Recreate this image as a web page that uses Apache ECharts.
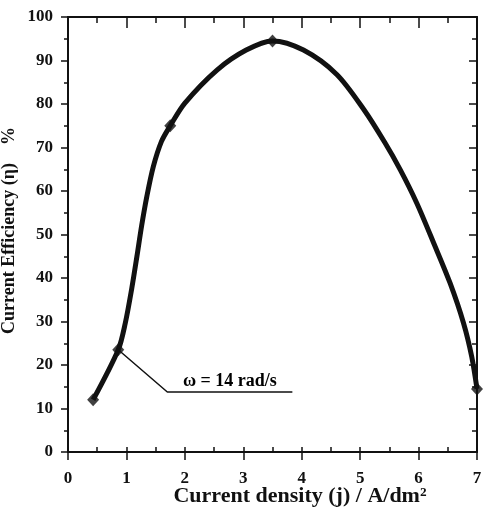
<!DOCTYPE html>
<html>
<head>
<meta charset="utf-8">
<script src="https://cdn.jsdelivr.net/npm/echarts@6/dist/echarts.min.js"></script>
<style>html,body{margin:0;padding:0;background:#fff;}#c{width:500px;height:512px;}</style>
</head>
<body>
<div id="c"></div>
<script>
// measured points (markers)
const pointX = [0.43, 0.86, 1.75, 3.5, 7.0];
const pointY = [12, 23.5, 75, 94.5, 14.5];
// fitted curve as drawn
const curveX = [0.43, 0.86, 0.98, 1.09, 1.18, 1.26, 1.35, 1.46, 1.6, 1.75, 2.0, 2.55, 3.05, 3.5, 4.03, 4.6, 5.06, 5.42, 5.69, 5.97, 6.26, 6.54, 6.77, 6.91, 7.0];
const curveY = [12, 23.5, 29.6, 37.5, 45, 52, 58.8, 65.6, 71.4, 75, 80.2, 87.8, 92.4, 94.5, 92.4, 86.8, 78.8, 71.2, 64.8, 57.2, 48, 38.8, 29.6, 21.9, 14.5];
// annotation leader line
const leaderX = [0.86, 1.70, 3.84];
const leaderY = [23.5, 13.8, 13.8];
const annText = 'ω = 14 rad/s';
const annPos = [2.77, 13.8];

const xName = 'Current density (j) / A/dm²';
const yName = 'Current Efficiency (η)    %';

const serif = 'Liberation Serif';
const ink = '#111';
const zip = (a, b) => a.map((v, i) => [v, b[i]]);

const chart = echarts.init(document.getElementById('c'));
chart.setOption({
  animation: false,
  backgroundColor: '#fff',
  grid: { left: 68, right: 23, top: 17, bottom: 60, containLabel: false, outerBoundsMode: 'none' },
  xAxis: [
    {
      type: 'value', min: 0, max: 7, interval: 1, position: 'bottom',
      axisLine: { show: true, onZero: false, lineStyle: { color: ink, width: 2 } },
      axisTick: { show: true, inside: false, length: 8, lineStyle: { color: ink, width: 1.5 } },
      minorTick: { show: false },
      splitLine: { show: false },
      axisLabel: { color: ink, fontFamily: serif, fontWeight: 'bold', fontSize: 17, margin: 18 },
      name: xName, nameLocation: 'middle', nameGap: 33, nameMoveOverlap: false,
      nameTextStyle: { color: ink, fontFamily: serif, fontWeight: 'bold', fontSize: 22, padding: [0, 0, 0, 55] }
    },
    {
      type: 'value', min: 0, max: 7, interval: 0.5, position: 'bottom',
      axisLine: { show: false },
      axisTick: { show: true, inside: true, length: 5, lineStyle: { color: ink, width: 1.5 } },
      axisLabel: { show: false }, splitLine: { show: false }
    },
    {
      type: 'value', min: 0, max: 7, interval: 1, position: 'top',
      axisLine: { show: true, onZero: false, lineStyle: { color: ink, width: 2 } },
      axisTick: { show: true, inside: true, length: 11, lineStyle: { color: ink, width: 1.5 } },
      minorTick: { show: true, splitNumber: 2, length: 6, lineStyle: { color: ink, width: 1.5 } },
      axisLabel: { show: false }, splitLine: { show: false }
    }
  ],
  yAxis: [
    {
      type: 'value', min: 0, max: 100, interval: 10, position: 'left',
      axisLine: { show: true, onZero: false, lineStyle: { color: ink, width: 2 } },
      axisTick: { show: true, inside: false, length: 7, lineStyle: { color: ink, width: 1.5 } },
      minorTick: { show: true, splitNumber: 2, length: 4, lineStyle: { color: ink, width: 1.5 } },
      splitLine: { show: false },
      axisLabel: { color: ink, fontFamily: serif, fontWeight: 'bold', fontSize: 17, margin: 15 },
      name: yName, nameLocation: 'middle', nameGap: 50, nameRotate: 90, nameMoveOverlap: false,
      nameTextStyle: { color: ink, fontFamily: serif, fontWeight: 'bold', fontSize: 18, padding: [0, 0, 0, 8] }
    },
    {
      type: 'value', min: 0, max: 100, interval: 10, position: 'right',
      axisLine: { show: true, onZero: false, lineStyle: { color: ink, width: 2 } },
      axisTick: { show: true, inside: true, length: 8, lineStyle: { color: ink, width: 1.5 } },
      minorTick: { show: true, splitNumber: 2, length: 5, lineStyle: { color: ink, width: 1.5 } },
      axisLabel: { show: false }, splitLine: { show: false }
    }
  ],
  series: [
    {
      type: 'line', data: zip(curveX, curveY), smooth: 0.3, showSymbol: false,
      lineStyle: { color: ink, width: 5 }, z: 3
    },
    {
      type: 'scatter', data: zip(pointX, pointY), symbol: 'diamond', symbolSize: [12, 13],
      itemStyle: { color: ink }, z: 4
    },
    {
      type: 'line', data: zip(leaderX, leaderY), showSymbol: false,
      lineStyle: { color: ink, width: 1.5 }, z: 2,
      markPoint: {
        symbol: 'circle', symbolSize: 0,
        data: [{ coord: annPos }],
        label: { show: true, position: 'top', distance: 2, formatter: annText,
          color: '#000', fontFamily: serif, fontWeight: 'bold', fontSize: 18 },
        itemStyle: { color: '#000' }
      }
    }
  ]
});
</script>
</body>
</html>
